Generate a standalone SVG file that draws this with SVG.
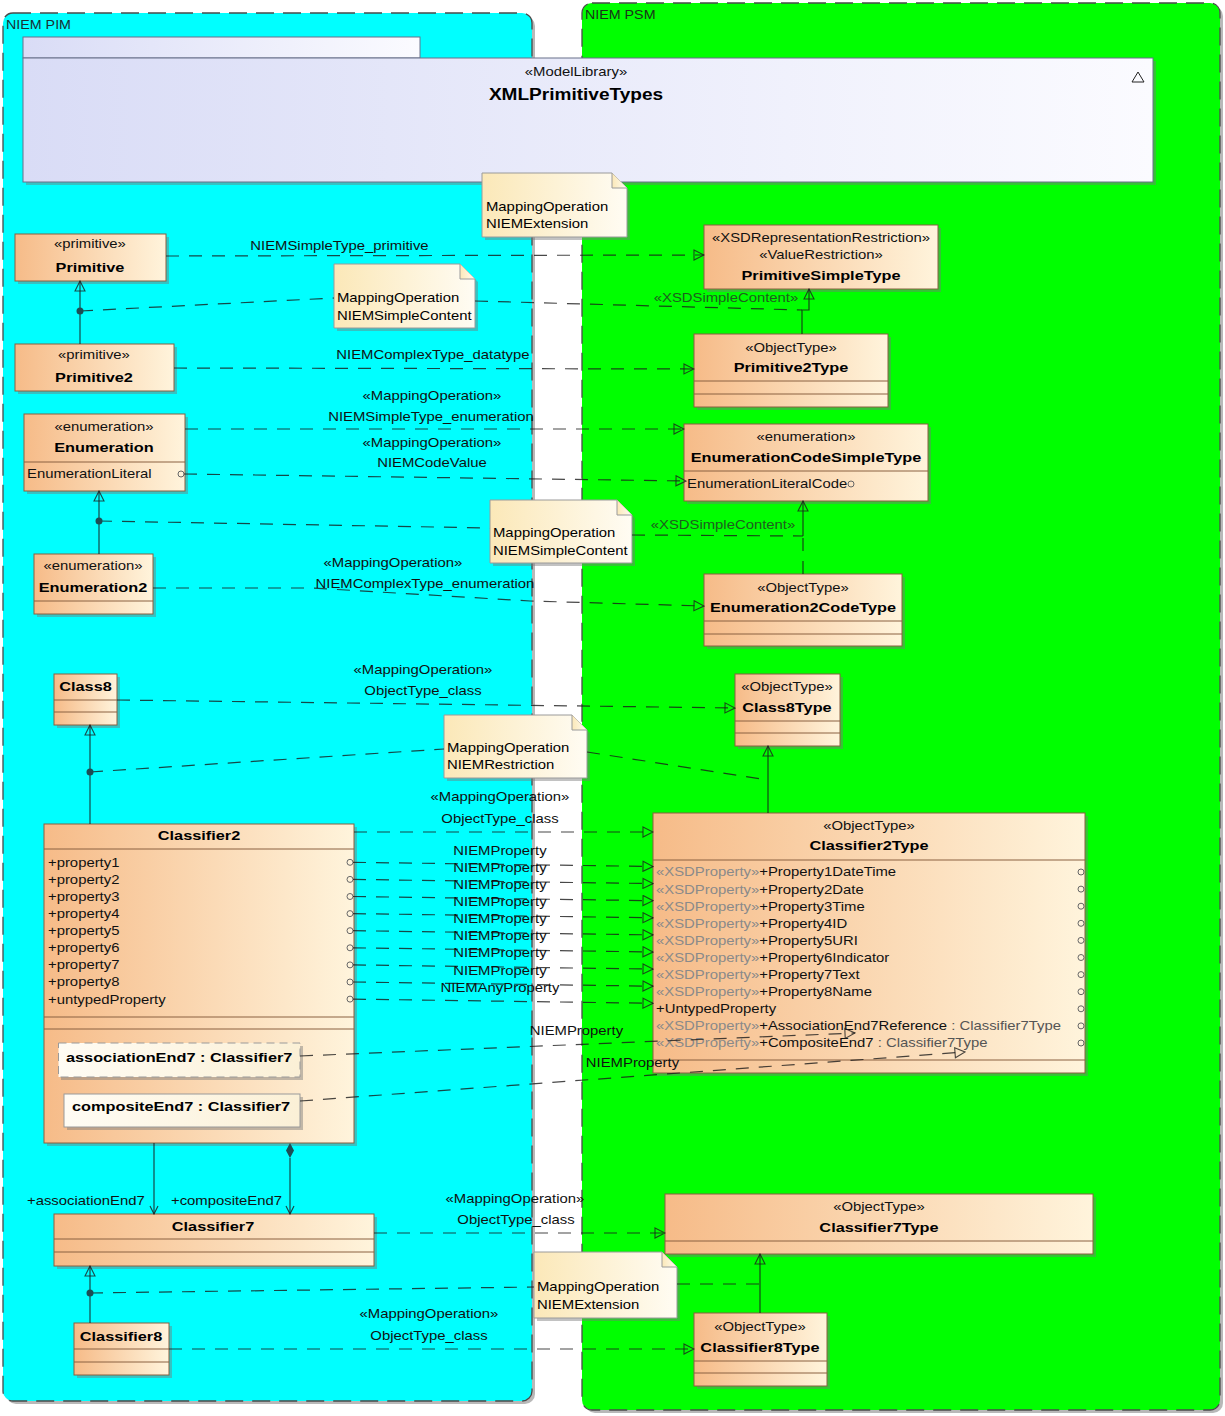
<svg xmlns="http://www.w3.org/2000/svg" width="1225" height="1416" viewBox="0 0 1225 1416">
<defs>
<linearGradient id="gc" x1="0" y1="0" x2="1" y2="0"><stop offset="0" stop-color="#f6bb88"/><stop offset="1" stop-color="#fff4dc"/></linearGradient>
<linearGradient id="gn" x1="0" y1="0" x2="1" y2="0"><stop offset="0" stop-color="#fbe8b8"/><stop offset="1" stop-color="#fffcf3"/></linearGradient>
<linearGradient id="gp" x1="0" y1="0" x2="1" y2="0"><stop offset="0" stop-color="#d9dcf6"/><stop offset="1" stop-color="#fbfbff"/></linearGradient>
<linearGradient id="gq" x1="0" y1="0" x2="1" y2="0"><stop offset="0" stop-color="#fffcf4"/><stop offset="1" stop-color="#fbf0d6"/></linearGradient>
<marker id="tri" viewBox="0 0 12 12" refX="11" refY="6" markerWidth="12" markerHeight="12" orient="auto" markerUnits="userSpaceOnUse"><path d="M1,1 L11,6 L1,11 Z" fill="none" stroke="#1e1e1e" stroke-opacity=".8" stroke-width="1.1"/></marker>
<marker id="open" viewBox="0 0 10 10" refX="9" refY="5" markerWidth="10" markerHeight="10" orient="auto" markerUnits="userSpaceOnUse"><path d="M1,1 L9,5 L1,9" fill="none" stroke="#1e1e1e" stroke-opacity=".85" stroke-width="1.1"/></marker>
<style>
.t{font-family:"Liberation Sans",Arial,sans-serif;font-size:12.5px;fill:#111;transform-box:fill-box;transform-origin:0 50%;transform:scaleX(1.19)}
.m{text-anchor:middle;transform-origin:50% 50%}
.b{font-weight:bold;font-size:13.7px;fill:#000}
.g{fill:#8a8a8a}
.y{fill:#555}
.c{fill:url(#gc);stroke:#8a6040;stroke-width:1}
.dv{stroke:#8a6040;stroke-width:1}
.sh{fill:#777;opacity:.45}
.nt{fill:url(#gn);stroke:#9a9a9a;stroke-width:1}
.pt{fill:url(#gq);stroke:#9a9a9a;stroke-width:1}
.k{fill:none;stroke:#1a1a1a;stroke-opacity:.8;stroke-width:1.2}
.d{stroke-dasharray:13 10}
.o{fill:none;stroke:#666;stroke-width:1}
.dot{fill:#1d4d55}
.pk{stroke:#4a4a4a;stroke-width:1.3;stroke-dasharray:18 9}
</style>
</defs>
<rect width="1225" height="1416" fill="#fff"/>
<g id="pkg-pim">
<rect x="6" y="16" width="529" height="1388" rx="10" fill="#888" opacity=".6"/>
<rect class="pk" x="3" y="13" width="529" height="1388" rx="10" fill="#00ffff"/>
<text class="t" x="6" y="29" style="font-size:12px;fill:#1a2f33">NIEM PIM</text>
</g>
<g id="pkg-psm">
<rect x="585" y="6" width="638" height="1407" rx="10" fill="#888" opacity=".6"/>
<rect class="pk" x="582" y="3" width="638" height="1407" rx="10" fill="#00ff00"/>
<text class="t" x="585" y="19.5" style="font-size:12px;fill:#1a331a">NIEM PSM</text>
</g>
<g id="n-xmlprimitivetypes">
<rect class="sh" x="26" y="61" width="1130" height="124"/>
<rect x="23" y="37" width="397" height="21" fill="url(#gp)" stroke="#68708a"/>
<rect x="23" y="58" width="1130" height="124" fill="url(#gp)" stroke="#68708a"/>
<text class="t m" x="576" y="76.5">«ModelLibrary»</text>
<text class="t m b" x="576" y="100.5" style="font-size:16px">XMLPrimitiveTypes</text>
<path d="M1132,82 L1138,72 L1144,82 Z" fill="none" stroke="#222"/>
</g>
<g id="n-primitive">
<rect class="sh" x="18" y="237" width="151" height="47"/>
<rect class="c" x="15" y="234" width="151" height="47"/>
<text class="t m" x="90" y="248.5">«primitive»</text>
<text class="t m b" x="90" y="272.5">Primitive</text>
</g>
<g id="n-primitive2">
<rect class="sh" x="18" y="347" width="159" height="47"/>
<rect class="c" x="15" y="344" width="159" height="47"/>
<text class="t m" x="94" y="359.5">«primitive»</text>
<text class="t m b" x="94" y="382.5">Primitive2</text>
</g>
<g id="n-enumeration">
<rect class="sh" x="27" y="417" width="161" height="77"/>
<rect class="c" x="24" y="414" width="161" height="77"/>
<line class="dv" x1="24" y1="462" x2="185" y2="462"/>
<text class="t m" x="104" y="431.5">«enumeration»</text>
<text class="t m b" x="104" y="452.5">Enumeration</text>
<text class="t" x="27" y="478.5">EnumerationLiteral</text>
<circle class="o" cx="181" cy="474" r="3"/>
</g>
<g id="n-enumeration2">
<rect class="sh" x="37" y="557" width="119" height="60"/>
<rect class="c" x="34" y="554" width="119" height="60"/>
<line class="dv" x1="34" y1="601" x2="153" y2="601"/>
<text class="t m" x="93" y="570.5">«enumeration»</text>
<text class="t m b" x="93" y="592.5">Enumeration2</text>
</g>
<g id="n-class8">
<rect class="sh" x="57" y="677" width="63" height="51"/>
<rect class="c" x="54" y="674" width="63" height="51"/>
<line class="dv" x1="54" y1="700" x2="117" y2="700"/>
<line class="dv" x1="54" y1="712" x2="117" y2="712"/>
<text class="t m b" x="85.5" y="691.5">Class8</text>
</g>
<g id="n-classifier2">
<rect class="sh" x="47" y="827" width="310" height="319"/>
<rect class="c" x="44" y="824" width="310" height="319"/>
<line class="dv" x1="44" y1="849" x2="354" y2="849"/>
<line class="dv" x1="44" y1="1017" x2="354" y2="1017"/>
<line class="dv" x1="44" y1="1029" x2="354" y2="1029"/>
<text class="t m b" x="199" y="840.5">Classifier2</text>
<text class="t" x="48" y="866.8">+property1</text>
<text class="t" x="48" y="883.9">+property2</text>
<text class="t" x="48" y="901">+property3</text>
<text class="t" x="48" y="918.1">+property4</text>
<text class="t" x="48" y="935.2">+property5</text>
<text class="t" x="48" y="952.3">+property6</text>
<text class="t" x="48" y="969.4">+property7</text>
<text class="t" x="48" y="986.5">+property8</text>
<text class="t" x="48" y="1003.6">+untypedProperty</text>
<circle class="o" cx="350" cy="862.3" r="3"/>
<circle class="o" cx="350" cy="879.4" r="3"/>
<circle class="o" cx="350" cy="896.5" r="3"/>
<circle class="o" cx="350" cy="913.6" r="3"/>
<circle class="o" cx="350" cy="930.7" r="3"/>
<circle class="o" cx="350" cy="947.8" r="3"/>
<circle class="o" cx="350" cy="964.9" r="3"/>
<circle class="o" cx="350" cy="982" r="3"/>
<circle class="o" cx="350" cy="999.1" r="3"/>
<rect class="sh" x="61" y="1046" width="242" height="34"/>
<rect class="pt" x="58.5" y="1043" width="241.5" height="34" stroke-dasharray="8 5"/>
<text class="t b" x="66" y="1062">associationEnd7 : Classifier7</text>
<rect class="sh" x="67" y="1097" width="236" height="33"/>
<rect class="pt" x="64" y="1094" width="236" height="33"/>
<text class="t b" x="72" y="1111">compositeEnd7 : Classifier7</text>
</g>
<g id="n-classifier7">
<rect class="sh" x="57" y="1217" width="320" height="52"/>
<rect class="c" x="54" y="1214" width="320" height="52"/>
<line class="dv" x1="54" y1="1239" x2="374" y2="1239"/>
<line class="dv" x1="54" y1="1252" x2="374" y2="1252"/>
<text class="t m b" x="213" y="1231.5">Classifier7</text>
</g>
<g id="n-classifier8">
<rect class="sh" x="77" y="1326" width="95" height="52"/>
<rect class="c" x="74" y="1323" width="95" height="52"/>
<line class="dv" x1="74" y1="1349" x2="169" y2="1349"/>
<line class="dv" x1="74" y1="1362" x2="169" y2="1362"/>
<text class="t m b" x="121" y="1341.5">Classifier8</text>
</g>
<g id="n-primitivesimpletype">
<rect class="sh" x="707" y="228" width="234" height="64"/>
<rect class="c" x="704" y="225" width="234" height="64"/>
<text class="t m" x="821" y="242.5">«XSDRepresentationRestriction»</text>
<text class="t m" x="821" y="259.5">«ValueRestriction»</text>
<text class="t m b" x="821" y="280.5">PrimitiveSimpleType</text>
</g>
<g id="n-primitive2type">
<rect class="sh" x="697" y="337" width="194" height="73"/>
<rect class="c" x="694" y="334" width="194" height="73"/>
<line class="dv" x1="694" y1="381" x2="888" y2="381"/>
<line class="dv" x1="694" y1="394" x2="888" y2="394"/>
<text class="t m" x="791" y="352.5">«ObjectType»</text>
<text class="t m b" x="791" y="372.5">Primitive2Type</text>
</g>
<g id="n-enumerationcodesimpletype">
<rect class="sh" x="687" y="427" width="244" height="77"/>
<rect class="c" x="684" y="424" width="244" height="77"/>
<line class="dv" x1="684" y1="471" x2="928" y2="471"/>
<text class="t m" x="806" y="441.5">«enumeration»</text>
<text class="t m b" x="806" y="462.5">EnumerationCodeSimpleType</text>
<text class="t" x="687" y="488.5">EnumerationLiteralCode</text>
<circle class="o" cx="851" cy="484" r="3"/>
</g>
<g id="n-enumeration2codetype">
<rect class="sh" x="707" y="577" width="198" height="72"/>
<rect class="c" x="704" y="574" width="198" height="72"/>
<line class="dv" x1="704" y1="621" x2="902" y2="621"/>
<line class="dv" x1="704" y1="634" x2="902" y2="634"/>
<text class="t m" x="803" y="592.5">«ObjectType»</text>
<text class="t m b" x="803" y="612.5">Enumeration2CodeType</text>
</g>
<g id="n-class8type">
<rect class="sh" x="738" y="677" width="105" height="72"/>
<rect class="c" x="735" y="674" width="105" height="72"/>
<line class="dv" x1="735" y1="721" x2="840" y2="721"/>
<line class="dv" x1="735" y1="733" x2="840" y2="733"/>
<text class="t m" x="787" y="691.5">«ObjectType»</text>
<text class="t m b" x="787" y="712.5">Class8Type</text>
</g>
<g id="n-classifier2type">
<rect class="sh" x="656" y="816" width="432" height="260"/>
<rect class="c" x="653" y="813" width="432" height="260"/>
<line class="dv" x1="653" y1="860" x2="1085" y2="860"/>
<line class="dv" x1="653" y1="1060" x2="1085" y2="1060"/>
<text class="t m" x="869" y="830.5">«ObjectType»</text>
<text class="t m b" x="869" y="850.5">Classifier2Type</text>
<text class="t" x="656" y="876.5"><tspan class="g">«XSDProperty»</tspan>+Property1DateTime</text>
<text class="t" x="656" y="893.6"><tspan class="g">«XSDProperty»</tspan>+Property2Date</text>
<text class="t" x="656" y="910.7"><tspan class="g">«XSDProperty»</tspan>+Property3Time</text>
<text class="t" x="656" y="927.8"><tspan class="g">«XSDProperty»</tspan>+Property4ID</text>
<text class="t" x="656" y="944.9"><tspan class="g">«XSDProperty»</tspan>+Property5URI</text>
<text class="t" x="656" y="962"><tspan class="g">«XSDProperty»</tspan>+Property6Indicator</text>
<text class="t" x="656" y="979.1"><tspan class="g">«XSDProperty»</tspan>+Property7Text</text>
<text class="t" x="656" y="996.2"><tspan class="g">«XSDProperty»</tspan>+Property8Name</text>
<text class="t" x="656" y="1013.3">+UntypedProperty</text>
<text class="t" x="656" y="1030.4"><tspan class="g">«XSDProperty»</tspan>+AssociationEnd7Reference<tspan class="y"> : Classifier7Type</tspan></text>
<text class="t" x="656" y="1047.5"><tspan class="g">«XSDProperty»</tspan>+CompositeEnd7<tspan class="y"> : Classifier7Type</tspan></text>
<circle class="o" cx="1081" cy="872" r="3"/>
<circle class="o" cx="1081" cy="889.1" r="3"/>
<circle class="o" cx="1081" cy="906.2" r="3"/>
<circle class="o" cx="1081" cy="923.3" r="3"/>
<circle class="o" cx="1081" cy="940.4" r="3"/>
<circle class="o" cx="1081" cy="957.5" r="3"/>
<circle class="o" cx="1081" cy="974.6" r="3"/>
<circle class="o" cx="1081" cy="991.7" r="3"/>
<circle class="o" cx="1081" cy="1008.8" r="3"/>
<circle class="o" cx="1081" cy="1025.9" r="3"/>
<circle class="o" cx="1081" cy="1043" r="3"/>
</g>
<g id="n-classifier7type">
<rect class="sh" x="668" y="1197" width="428" height="60"/>
<rect class="c" x="665" y="1194" width="428" height="60"/>
<line class="dv" x1="665" y1="1241" x2="1093" y2="1241"/>
<text class="t m" x="879" y="1211.5">«ObjectType»</text>
<text class="t m b" x="879" y="1232.5">Classifier7Type</text>
</g>
<g id="n-classifier8type">
<rect class="sh" x="697" y="1316" width="133" height="73"/>
<rect class="c" x="694" y="1313" width="133" height="73"/>
<line class="dv" x1="694" y1="1361" x2="827" y2="1361"/>
<line class="dv" x1="694" y1="1373" x2="827" y2="1373"/>
<text class="t m" x="760" y="1331.5">«ObjectType»</text>
<text class="t m b" x="760" y="1352.5">Classifier8Type</text>
</g>
<g id="note-1">
<path class="sh" d="M485,176 L615,176 L630,191 L630,240 L485,240 Z"/>
<path class="nt" d="M482,173 L612,173 L627,188 L627,237 L482,237 Z"/>
<path class="nt" d="M612,173 L612,188 L627,188"/>
<text class="t" x="486" y="211.5" style="fill:#000">MappingOperation</text>
<text class="t" x="486" y="228.5" style="fill:#000">NIEMExtension</text>
</g>
<g id="note-2">
<path class="sh" d="M337,267 L463,267 L478,282 L478,331 L337,331 Z"/>
<path class="nt" d="M334,264 L460,264 L475,279 L475,328 L334,328 Z"/>
<path class="nt" d="M460,264 L460,279 L475,279"/>
<text class="t" x="337" y="302.5" style="fill:#000">MappingOperation</text>
<text class="t" x="337" y="320.5" style="fill:#000">NIEMSimpleContent</text>
</g>
<g id="note-3">
<path class="sh" d="M493,503 L620,503 L635,518 L635,566 L493,566 Z"/>
<path class="nt" d="M490,500 L617,500 L632,515 L632,563 L490,563 Z"/>
<path class="nt" d="M617,500 L617,515 L632,515"/>
<text class="t" x="493" y="537.5" style="fill:#000">MappingOperation</text>
<text class="t" x="493" y="555.5" style="fill:#000">NIEMSimpleContent</text>
</g>
<g id="note-4">
<path class="sh" d="M447,718 L575,718 L590,733 L590,781 L447,781 Z"/>
<path class="nt" d="M444,715 L572,715 L587,730 L587,778 L444,778 Z"/>
<path class="nt" d="M572,715 L572,730 L587,730"/>
<text class="t" x="447" y="752.5" style="fill:#000">MappingOperation</text>
<text class="t" x="447" y="769.5" style="fill:#000">NIEMRestriction</text>
</g>
<g id="note-5">
<path class="sh" d="M537,1255 L665,1255 L680,1270 L680,1321 L537,1321 Z"/>
<path class="nt" d="M534,1252 L662,1252 L677,1267 L677,1318 L534,1318 Z"/>
<path class="nt" d="M662,1252 L662,1267 L677,1267"/>
<text class="t" x="537" y="1291.5" style="fill:#000">MappingOperation</text>
<text class="t" x="537" y="1309.5" style="fill:#000">NIEMExtension</text>
</g>
<g id="connectors">
<path class="k d" d="M166,256 L704,255" marker-end="url(#tri)"/>
<path class="k d" d="M174,368 L694,369" marker-end="url(#tri)"/>
<path class="k d" d="M185,429 L684,429" marker-end="url(#tri)"/>
<path class="k d" d="M184,474 L686,481" marker-end="url(#tri)"/>
<path class="k d" d="M153,588 L312,588 L530,601 L704,606" marker-end="url(#tri)"/>
<path class="k d" d="M117,700 L735,708" marker-end="url(#tri)"/>
<path class="k d" d="M354,832 L653,832" marker-end="url(#tri)"/>
<path class="k d" d="M353,862.3 L653,866.5" marker-end="url(#tri)"/>
<path class="k d" d="M353,879.4 L653,883.6" marker-end="url(#tri)"/>
<path class="k d" d="M353,896.5 L653,900.7" marker-end="url(#tri)"/>
<path class="k d" d="M353,913.6 L653,917.8" marker-end="url(#tri)"/>
<path class="k d" d="M353,930.7 L653,934.9" marker-end="url(#tri)"/>
<path class="k d" d="M353,947.8 L653,952" marker-end="url(#tri)"/>
<path class="k d" d="M353,964.9 L653,969.1" marker-end="url(#tri)"/>
<path class="k d" d="M353,982 L653,986.2" marker-end="url(#tri)"/>
<path class="k d" d="M353,999.1 L653,1003.3" marker-end="url(#tri)"/>
<path class="k d" d="M300,1056 L855,1033" marker-end="url(#tri)"/>
<path class="k d" d="M300,1101 L965,1052" marker-end="url(#tri)"/>
<path class="k d" d="M374,1233 L665,1233" marker-end="url(#tri)"/>
<path class="k d" d="M169,1349 L694,1349" marker-end="url(#tri)"/>
<path class="k" d="M80,344 L80,281" marker-end="url(#tri)"/>
<path class="k" d="M99,554 L99,491" marker-end="url(#tri)"/>
<path class="k" d="M90,824 L90,725" marker-end="url(#tri)"/>
<path class="k" d="M90,1323 L90,1266" marker-end="url(#tri)"/>
<path class="k" d="M802,334 L802,310 L809,310 L809,289" marker-end="url(#tri)"/>
<path class="k d" d="M803,574 L803,536"/>
<path class="k" d="M803,536 L803,501" marker-end="url(#tri)"/>
<path class="k" d="M768,813 L768,746" marker-end="url(#tri)"/>
<path class="k" d="M760,1313 L760,1254" marker-end="url(#tri)"/>
<path class="k d" d="M80,311 L334,298"/>
<path class="k d" d="M475,301 L802,310"/>
<path class="k d" d="M99,521 L490,528"/>
<path class="k d" d="M632,535 L803,536"/>
<path class="k d" d="M90,772 L444,749"/>
<path class="k d" d="M587,752 L768,780"/>
<path class="k d" d="M90,1293 L534,1287"/>
<path class="k d" d="M677,1284 L760,1284"/>
<circle class="dot" cx="80" cy="311" r="3.5"/>
<circle class="dot" cx="99" cy="521" r="3.5"/>
<circle class="dot" cx="90" cy="772" r="3.5"/>
<circle class="dot" cx="90" cy="1293" r="3.5"/>
<path class="k" d="M154,1143 L154,1214" marker-end="url(#open)"/>
<path class="k" d="M290,1158 L290,1214" marker-end="url(#open)"/>
<path d="M290,1143 L294,1150.5 L290,1158 L286,1150.5 Z" fill="#1d4d55"/>
<text class="t" x="27" y="1205.5">+associationEnd7</text>
<text class="t" x="171" y="1205.5">+compositeEnd7</text>
<text class="t m" x="339.5" y="250.5">NIEMSimpleType_primitive</text>
<text class="t m" x="433" y="359.5">NIEMComplexType_datatype</text>
<text class="t m" x="432" y="400.5">«MappingOperation»</text>
<text class="t m" x="431" y="421.5">NIEMSimpleType_enumeration</text>
<text class="t m" x="432" y="447.5">«MappingOperation»</text>
<text class="t m" x="432" y="467.5">NIEMCodeValue</text>
<text class="t m" x="393" y="567.5">«MappingOperation»</text>
<text class="t m" x="425" y="588.5">NIEMComplexType_enumeration</text>
<text class="t m" x="423" y="674.5">«MappingOperation»</text>
<text class="t m" x="423" y="695.5">ObjectType_class</text>
<text class="t m" x="500" y="801.5">«MappingOperation»</text>
<text class="t m" x="500" y="823.5">ObjectType_class</text>
<text class="t m" x="500" y="855.5">NIEMProperty</text>
<text class="t m" x="500" y="872.5">NIEMProperty</text>
<text class="t m" x="500" y="889.5">NIEMProperty</text>
<text class="t m" x="500" y="906.5">NIEMProperty</text>
<text class="t m" x="500" y="923.5">NIEMProperty</text>
<text class="t m" x="500" y="940.5">NIEMProperty</text>
<text class="t m" x="500" y="957.5">NIEMProperty</text>
<text class="t m" x="500" y="975.5">NIEMProperty</text>
<text class="t m" x="500" y="992.5">NIEMAnyProperty</text>
<text class="t m" x="576.5" y="1035.5">NIEMProperty</text>
<text class="t m" x="632.5" y="1067.5">NIEMProperty</text>
<text class="t m" x="515" y="1203.5">«MappingOperation»</text>
<text class="t m" x="516" y="1224.5">ObjectType_class</text>
<text class="t m" x="429" y="1318.5">«MappingOperation»</text>
<text class="t m" x="429" y="1340.5">ObjectType_class</text>
<text class="t m" x="726" y="302.5" style="fill:#1e5e1e">«XSDSimpleContent»</text>
<text class="t m" x="723" y="529.5" style="fill:#1e5e1e">«XSDSimpleContent»</text>
</g>
</svg>
